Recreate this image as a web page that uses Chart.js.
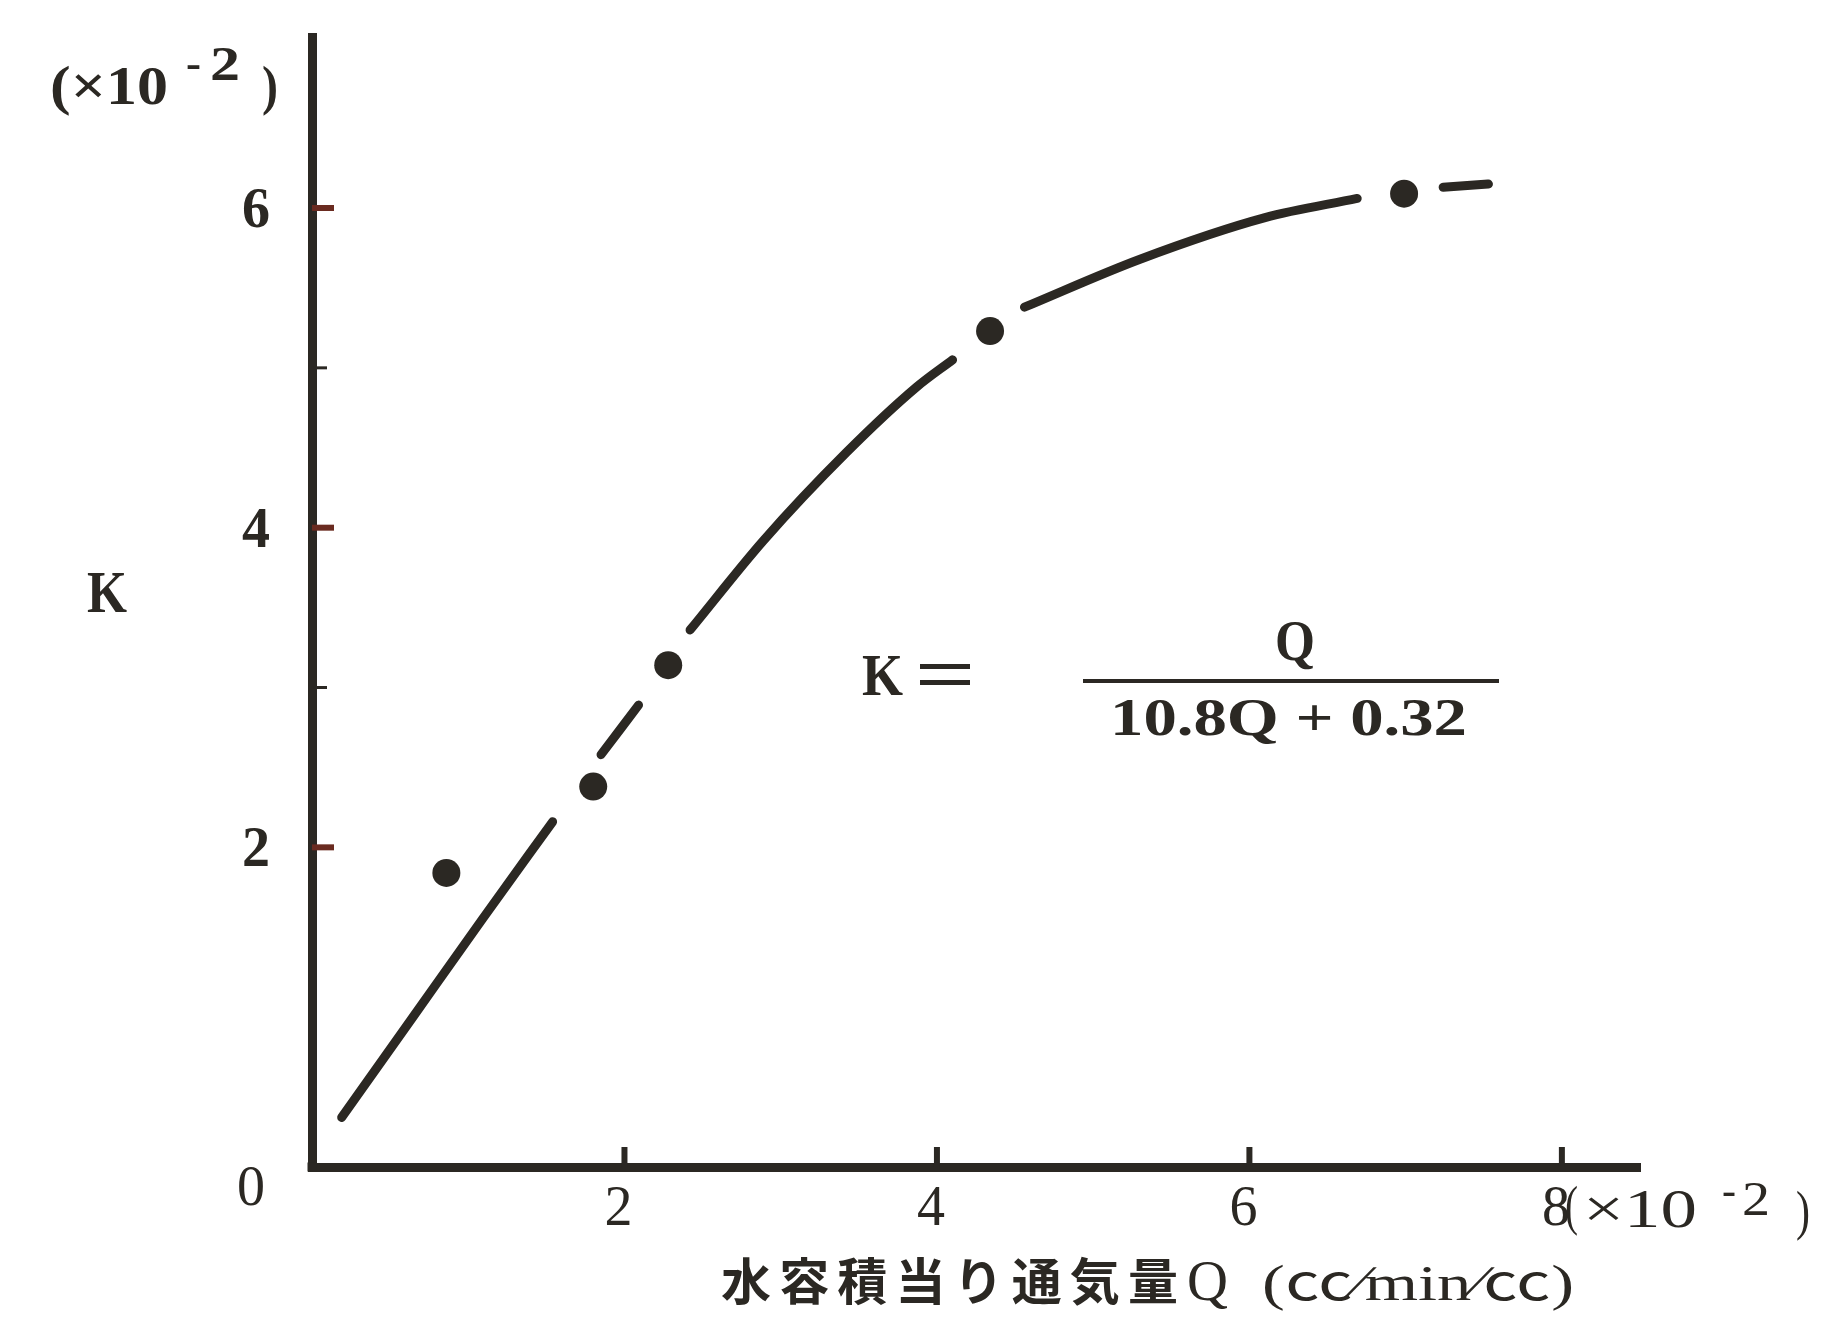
<!DOCTYPE html>
<html>
<head>
<meta charset="utf-8">
<script src="https://cdn.jsdelivr.net/npm/chart.js@4.4.0/dist/chart.umd.min.js"></script>
<style>
    html, body { margin: 0; padding: 0; background: #fff; }
    #wrap { width: 1842px; height: 1318px; }
</style>
</head>
<body>
<div id="wrap"><canvas id="chart" width="1842" height="1318"></canvas></div>
<script>
// Значения (единицы ×10^-2)
const xTicks = [2, 4, 6, 8];
const yTicks = [2, 4, 6];
const yMinorTicks = [3, 5];

// измеренные точки
const measuredQ = [0.86, 1.80, 2.28, 4.34, 6.99];
const measuredK = [1.84, 2.38, 3.14, 5.23, 6.09];

// нарисованная от руки кривая, null = разрыв линии
const curveQ = [0.19, 0.64, 1.09, 1.54, 1.70, 1.85, 2.09, 2.25, 2.42, 2.89, 3.42, 3.87, 4.10, 4.33, 4.56, 5.30, 6.10, 6.69, 7.00, 7.24, 7.53];
const curveK = [0.31, 0.93, 1.55, 2.16, null, 2.58, 2.89, null, 3.36, 3.92, 4.47, 4.88, 5.05, null, 5.38, 5.68, 5.94, 6.06, null, 6.13, 6.15];

const ink = '#2b2823';
const tickRed = '#6a2b20';
const serif = "'Liberation Serif', 'DejaVu Serif', serif";
const cjk = "'Noto Sans CJK JP', sans-serif";

// текст, растянутый по ширине от left до right
function fitText(ctx, s, left, right, base, font) {
    ctx.save();
    ctx.font = font;
    ctx.textAlign = 'left';
    ctx.textBaseline = 'alphabetic';
    const w = ctx.measureText(s).width;
    ctx.translate(left, base);
    ctx.scale((right - left) / w, 1);
    ctx.fillText(s, 0, 0);
    ctx.restore();
}

function centerText(ctx, s, cx, base, font) {
    ctx.save();
    ctx.font = font;
    ctx.textAlign = 'center';
    ctx.textBaseline = 'alphabetic';
    ctx.fillText(s, cx, base);
    ctx.restore();
}

// символы с равным шагом
function spread(ctx, s, left, right, cy, font) {
    ctx.save();
    ctx.font = font;
    ctx.textAlign = 'center';
    ctx.textBaseline = 'middle';
    const chars = Array.from(s);
    const step = (right - left) / chars.length;
    chars.forEach((c, i) => ctx.fillText(c, left + step * (i + 0.5), cy));
    ctx.restore();
}

function seg(ctx, x1, y1, x2, y2) {
    ctx.beginPath();
    ctx.moveTo(x1, y1);
    ctx.lineTo(x2, y2);
    ctx.stroke();
}

const annotate = {
    id: 'annotate',
    afterDraw(chart) {
        const { ctx, chartArea: a } = chart;
        const x = chart.scales.x, y = chart.scales.y;
        ctx.save();
        ctx.fillStyle = ink;
        ctx.fillRect(a.left - 4.5, a.bottom - 4.5, 9, 9);

        // деления оси Y (внутрь)
        ctx.lineCap = 'butt';
        ctx.strokeStyle = tickRed;
        ctx.lineWidth = 6;
        yTicks.forEach(v => {
            const py = y.getPixelForValue(v);
            seg(ctx, a.left, py, a.left + 22, py);
        });
        ctx.strokeStyle = ink;
        ctx.lineWidth = 3;
        yMinorTicks.forEach(v => {
            const py = y.getPixelForValue(v);
            seg(ctx, a.left, py, a.left + 15, py);
        });

        // деления оси X (вверх)
        ctx.lineWidth = 6;
        xTicks.forEach(v => {
            const px = x.getPixelForValue(v);
            seg(ctx, px, a.bottom, px, a.bottom - 20);
        });

        // подписи делений
        ctx.fillStyle = ink;
        yTicks.forEach(v => {
            centerText(ctx, String(v), a.left - 56, y.getPixelForValue(v) + 19, 'bold 56px ' + serif);
        });
        centerText(ctx, '0', a.left - 61, a.bottom + 38, '56px ' + serif);
        xTicks.forEach(v => {
            centerText(ctx, String(v), x.getPixelForValue(v) - 6, a.bottom + 58, '56px ' + serif);
        });

        // множитель оси Y
        fitText(ctx, '(×10', 50, 168, 104, 'bold 54px ' + serif);
        fitText(ctx, '-', 186, 201, 78, 'bold 44px ' + serif);
        fitText(ctx, '2', 210, 240, 80, 'bold 48px ' + serif);
        fitText(ctx, ')', 262, 278, 104, 'bold 54px ' + serif);

        // множитель оси X
        fitText(ctx, '(', 1565, 1578, 1224, '54px ' + serif);
        fitText(ctx, '×10', 1583, 1697, 1227, '54px ' + serif);
        fitText(ctx, '-', 1722, 1736, 1205, '44px ' + serif);
        fitText(ctx, '2', 1742, 1770, 1215, '48px ' + serif);
        fitText(ctx, ')', 1796, 1810, 1229, '54px ' + serif);

        // название оси Y
        fitText(ctx, 'K', 87, 127, 612, 'bold 60px ' + serif);

        // название оси X
        spread(ctx, '水容積当り通気量', 717, 1182, 1281, 'bold 50px ' + cjk);
        fitText(ctx, 'Q', 1187, 1228, 1300, '56px ' + serif);
        fitText(ctx, '(㏄∕min∕㏄)', 1262, 1574, 1300, '50px ' + serif + ', ' + cjk);

        // формула
        fitText(ctx, 'K', 862, 903, 695, 'bold 60px ' + serif);
        ctx.fillRect(920, 664, 50, 5);
        ctx.fillRect(920, 680, 50, 5);
        fitText(ctx, 'Q', 1275, 1315, 660, 'bold 58px ' + serif);
        ctx.fillRect(1083, 679, 416, 4);
        fitText(ctx, '10.8Q + 0.32', 1110, 1467, 735, 'bold 52px ' + serif);

        ctx.restore();
    }
};

const curve = curveQ.map((q, i) => ({ x: q, y: curveK[i] }));
const points = measuredQ.map((q, i) => ({ x: q, y: measuredK[i] }));

new Chart(document.getElementById('chart'), {
    type: 'scatter',
    data: {
        datasets: [
            {
                data: curve,
                showLine: true,
                spanGaps: false,
                borderColor: ink,
                borderWidth: 9,
                borderCapStyle: 'round',
                pointRadius: 0,
                cubicInterpolationMode: 'monotone'
            },
            {
                data: points,
                showLine: false,
                pointRadius: 14,
                pointBorderWidth: 0,
                backgroundColor: ink
            }
        ]
    },
    options: {
        responsive: false,
        animation: false,
        devicePixelRatio: 1,
        layout: { padding: { left: 312, right: 202, top: 37, bottom: 151 } },
        plugins: { legend: { display: false }, tooltip: { enabled: false } },
        scales: {
            x: {
                type: 'linear', min: 0, max: 8.5,
                grid: { display: false },
                ticks: { display: false },
                border: { display: true, color: ink, width: 9 },
                afterFit: s => { s.height = 0; }
            },
            y: {
                type: 'linear', min: 0, max: 7.07,
                grid: { display: false },
                ticks: { display: false },
                border: { display: true, color: ink, width: 9 },
                afterFit: s => { s.width = 0; }
            }
        }
    },
    plugins: [annotate]
});
</script>
</body>
</html>
